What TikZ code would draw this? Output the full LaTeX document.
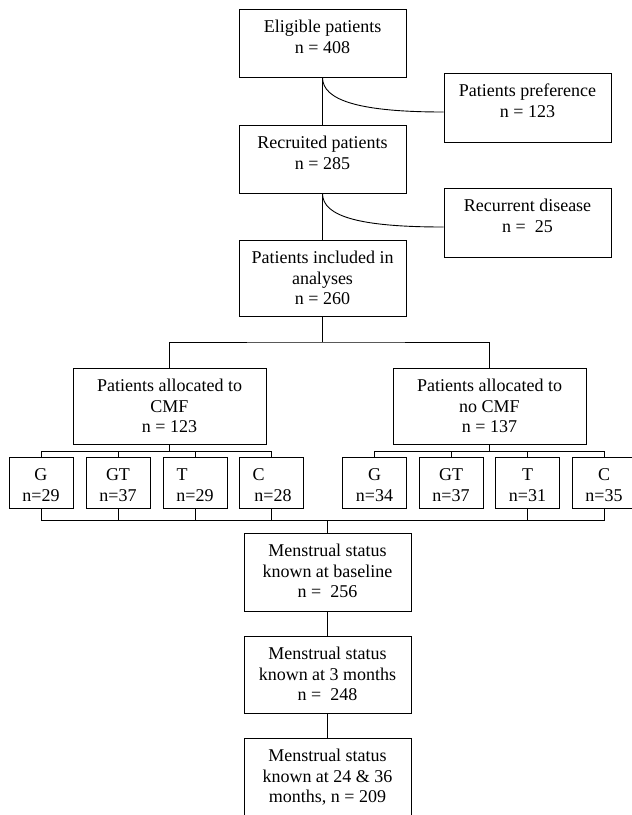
\documentclass[tikz,border=0pt]{standalone}
\usepackage{fontspec}
\setmainfont{Liberation Serif}
\usetikzlibrary{calc}

\newcommand{\flowtext}[3]{\parbox[c][#2pt][t]{#1pt}{\centering\rule{0pt}{23.5pt}#3}}

\tikzset{
	flowbox/.style={
		draw,
		line width=0.9pt,
		inner sep=0pt,
		font=\fontsize{18}{20.5}\selectfont
	},
	flowline/.style={
		line width=0.9pt
	}
}

\begin{document}
\begin{tikzpicture}[x=1pt,y=-1pt]
				
				% Page frame
				\useasboundingbox (0,0) rectangle (632,815);
				\clip (0,0) rectangle (632,815);
				
				% Recruitment boxes
				\node[flowbox] (elig) at (322.5,43)
				{\flowtext{167}{68}{Eligible patients\\ n = 408}};
				
				\node[flowbox] (pref) at (527.5,107.5)
				{\flowtext{167}{69}{Patients preference\\ n = 123}};
				
				\node[flowbox] (recr) at (322.5,159)
				{\flowtext{167}{68}{Recruited patients\\ n = 285}};
				
				\node[flowbox] (recur) at (527.5,222.5)
				{\flowtext{167}{69}{Recurrent disease\\ n =\ \ 25}};
				
				\node[flowbox] (incl) at (322.5,278)
				{\flowtext{167}{76}{Patients included in\\ analyses\\ n = 260}};
				
				% Allocation boxes
				\node[flowbox] (cmf) at (169.5,406)
				{\flowtext{193}{76}{Patients allocated to\\ CMF\\ n = 123}};
				
				\node[flowbox] (nocmf) at (489.5,406)
				{\flowtext{193}{76}{Patients allocated to\\ no CMF\\ n = 137}};
				
				% Subgroups, CMF
				\node[flowbox] (lG) at (41,482.5)
				{\flowtext{64}{51}{G\\ n=29}};
				\node[flowbox] (lGT) at (118,482.5)
				{\flowtext{64}{51}{GT\\ n=37}};
				\node[flowbox] (lT) at (195,482.5)
				{\flowtext{64}{51}{\makebox[37pt][l]{T}\\ n=29}};
				\node[flowbox] (lC) at (271,482.5)
				{\flowtext{64}{51}{\makebox[37pt][l]{C}\\ \hspace*{4pt}n=28}};
				
				% Subgroups, no CMF
				\node[flowbox] (rG) at (374.5,482.5)
				{\flowtext{64}{51}{G\\ n=34}};
				\node[flowbox] (rGT) at (451,482.5)
				{\flowtext{64}{51}{GT\\ n=37}};
				\node[flowbox] (rT) at (527.5,482.5)
				{\flowtext{64}{51}{T\\ n=31}};
				\node[flowbox] (rC) at (604,482.5)
				{\flowtext{64}{51}{C\\ n=35}};
				
				% Menstrual status boxes
				\node[flowbox] (mbase) at (327.5,572)
				{\flowtext{167}{78}{Menstrual status\\ known at baseline\\ n =\ \ 256}};
				
				\node[flowbox] (mthree) at (327.5,674.5)
				{\flowtext{167}{77}{Menstrual status\\ known at 3 months\\ n =\ \ 248}};
				
				\node[flowbox] (mlate) at (327.5,778)
				{\flowtext{167}{80}{Menstrual status\\ known at 24 \& 36\\ months, n = 209}};
				
				% Bus points
				\coordinate (allocbus) at (322.5,342);
				\coordinate (cmfbus) at ($(cmf.south)+(0,7)$);
				\coordinate (nocmfbus) at ($(nocmf.south)+(0,7)$);
				\coordinate (mbus) at ($(mbase.north)+(0,-12)$);
				
				% Main line
				\draw[flowline]
				(elig.south) -- (recr.north);
				
				\draw[flowline]
				(recr.south) -- (incl.north);
				
				% Exclusions
				\draw[flowline]
				(elig.south) .. controls +(0,23) and +(-84,0) .. ([yshift=-4.5pt]pref.west);
				
				\draw[flowline]
				(recr.south) .. controls +(0,23) and +(-84,0) .. ([yshift=-4.5pt]recur.west);
				
				% Allocation
				\draw[flowline]
				(incl.south) -- (allocbus);
				
				\draw[flowline]
				(cmf.north) |- (allocbus) -| (nocmf.north);
				
				% CMF split
				\draw[line width=1.4pt]
				(cmf.south) -- (cmfbus);
				\draw[line width=1.4pt]
				(lGT.north |- cmfbus) -- (lT.north |- cmfbus);
				\draw[flowline]
				(lG.north) |- (cmfbus) -| (lC.north);
				\draw[flowline]
				(lGT.north) -- (lGT.north |- cmfbus);
				\draw[flowline]
				(lT.north) -- (lT.north |- cmfbus);
				
				% No CMF split
				\draw[line width=1.4pt]
				(nocmf.south) -- (nocmfbus);
				\draw[line width=1.4pt]
				(rGT.north |- nocmfbus) -- (rT.north |- nocmfbus);
				\draw[flowline]
				(rG.north) |- (nocmfbus) -| (rC.north);
				\draw[flowline]
				(rGT.north) -- (rGT.north |- nocmfbus);
				\draw[flowline]
				(rT.north) -- (rT.north |- nocmfbus);
				
				% Merge
				\draw[flowline]
				(lG.south) |- (mbus);
				\draw[flowline]
				(rC.south) |- (mbus);
				\draw[flowline]
				(lGT.south) -- (lGT.south |- mbus);
				\draw[flowline]
				(lT.south) -- (lT.south |- mbus);
				\draw[flowline]
				(lC.south) -- (lC.south |- mbus);
				\draw[flowline]
				(rT.south) -- (rT.south |- mbus);
				\draw[line width=1.4pt]
				(mbus) -- (mbase.north);
				
				% Follow-up
				\draw[flowline]
				(mbase.south) -- (mthree.north);
				
				\draw[flowline]
				(mthree.south) -- (mlate.north);
				
\end{tikzpicture}
\end{document}
